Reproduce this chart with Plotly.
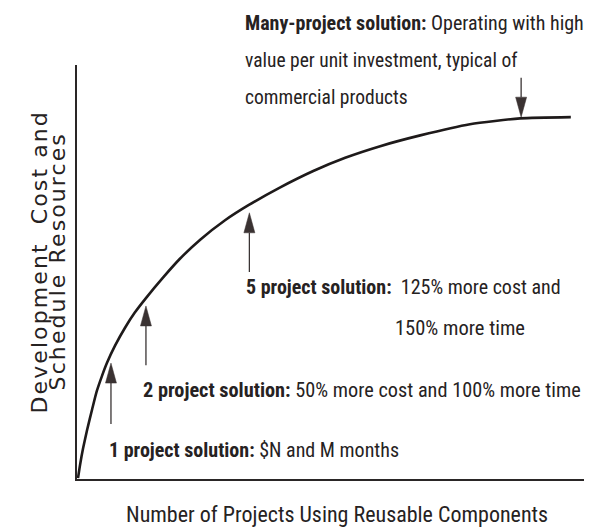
import plotly.graph_objects as go

# ---- data (axes run 0-100 in arbitrary units) ----
curve_x = [0.2, 0.6, 1.2, 2.0, 3.0, 3.9, 4.9, 5.9, 7.5, 9.5, 11.4, 13.6, 17.0, 20.3, 24.3,
           29.2, 33.9, 40.0, 46.6, 52.9, 59.8, 67.7, 77.5, 87.4, 97.4]
curve_y = [0.2, 3.4, 7.4, 11.9, 16.9, 21.2, 24.8, 28.0, 32.2, 36.6, 40.2, 43.7, 48.7, 53.2, 57.8,
           62.5, 66.2, 70.4, 74.4, 77.6, 80.4, 83.0, 85.7, 87.1, 87.4]

arrow_x    = [6.7, 13.6, 34.0, 87.6]
arrow_tail = [13.3, 27.5, 50.0, 96.9]
arrow_tip  = [28.0, 41.8, 64.3, 87.4]

label_lines = [
    "<b>Many-project solution:</b> Operating with high",
    "value per unit investment, typical of",
    "commercial products",
    "<b>5 project solution:</b>  125% more cost and",
    "150% more time",
    "<b>2 project solution:</b> 50% more cost and 100% more time",
    "<b>1 project solution:</b> $N and M months",
]
# label anchor points in picture pixels (left edge, vertical centre)
label_px = [243, 243, 243, 244, 393, 141, 107]
label_py = [23, 61, 97, 287, 328, 390, 450]
label_size = [20, 19.5, 19.5, 20, 20.5, 20.3, 20]

x_title = "Number of Projects Using Reusable Components"
y_title_lines = ["Development  Cost and", "Schedule Resources"]

# ---- layout constants ----
W, H = 594, 531
ML, MR, MT, MB = 77, 10, 65, 52
PW, PH = W - ML - MR, H - MT - MB
XR, YR = 100.0, 100.0
px_x = XR / PW
px_y = YR / PH


def pap_x(px):
    return (px - ML) / PW


def pap_y(py):
    return ((H - MB) - py) / PH


TXT_FONT = "Liberation Sans Narrow, Arial Narrow, Roboto Condensed, Liberation Sans, sans-serif"
INK = "#262222"

fig = go.Figure()
fig.add_trace(go.Scatter(
    x=curve_x, y=curve_y, mode="lines",
    line=dict(color="#1e1a1a", width=2.6, shape="spline", smoothing=0.6),
    hoverinfo="skip", showlegend=False))

shapes = []
head_hw = 5.5 * px_x
head_len = 20 * px_y
for ax_, tail, tip in zip(arrow_x, arrow_tail, arrow_tip):
    d = 1 if tip > tail else -1
    base = tip - d * head_len
    shapes.append(dict(type="line", xref="x", yref="y", x0=ax_, x1=ax_, y0=tail, y1=base,
                       line=dict(color="#3a3434", width=1.3)))
    shapes.append(dict(type="path", xref="x", yref="y",
                       path=f"M {ax_-head_hw},{base} L {ax_},{tip} L {ax_+head_hw},{base} Z",
                       fillcolor="#3a3232", line=dict(color="#3a3232", width=0.5)))

annotations = []
for t, x, y, s in zip(label_lines, label_px, label_py, label_size):
    annotations.append(dict(text=t, x=pap_x(x), y=pap_y(y), xref="paper", yref="paper",
                            xanchor="left", yanchor="middle", showarrow=False,
                            font=dict(family=TXT_FONT, size=s, color=INK)))

annotations.append(dict(text=x_title, x=pap_x(337), y=pap_y(514),
                        xref="paper", yref="paper", xanchor="center", yanchor="middle",
                        showarrow=False, font=dict(family=TXT_FONT, size=22, color=INK)))
for t, cx in zip(y_title_lines, [38.5, 56.5]):
    annotations.append(dict(text=t, x=pap_x(cx), y=pap_y(262),
                            xref="paper", yref="paper", xanchor="center", yanchor="middle",
                            textangle=-90, showarrow=False,
                            font=dict(family="DejaVu Sans, Liberation Sans, sans-serif", size=22, color=INK)))

fig.update_layout(
    width=W, height=H, margin=dict(l=ML, r=MR, t=MT, b=MB),
    paper_bgcolor="white", plot_bgcolor="white",
    xaxis=dict(range=[0, XR], showgrid=False, zeroline=False, showticklabels=False, ticks="",
               showline=True, linecolor="#2a2626", linewidth=1.6, fixedrange=True),
    yaxis=dict(range=[0, YR], showgrid=False, zeroline=False, showticklabels=False, ticks="",
               showline=True, linecolor="#2a2626", linewidth=1.6, fixedrange=True),
    shapes=shapes, annotations=annotations, showlegend=False,
)

post = (
    "document.body.style.margin='0';document.body.style.padding='0';"
    "document.querySelectorAll('.annotation-text').forEach(function(t){"
    "if(/^(Development|Schedule)/.test(t.textContent)){t.style.letterSpacing='2.1px';}});"
)
fig.write_html("out.html", config={"displayModeBar": False}, post_script=post)
